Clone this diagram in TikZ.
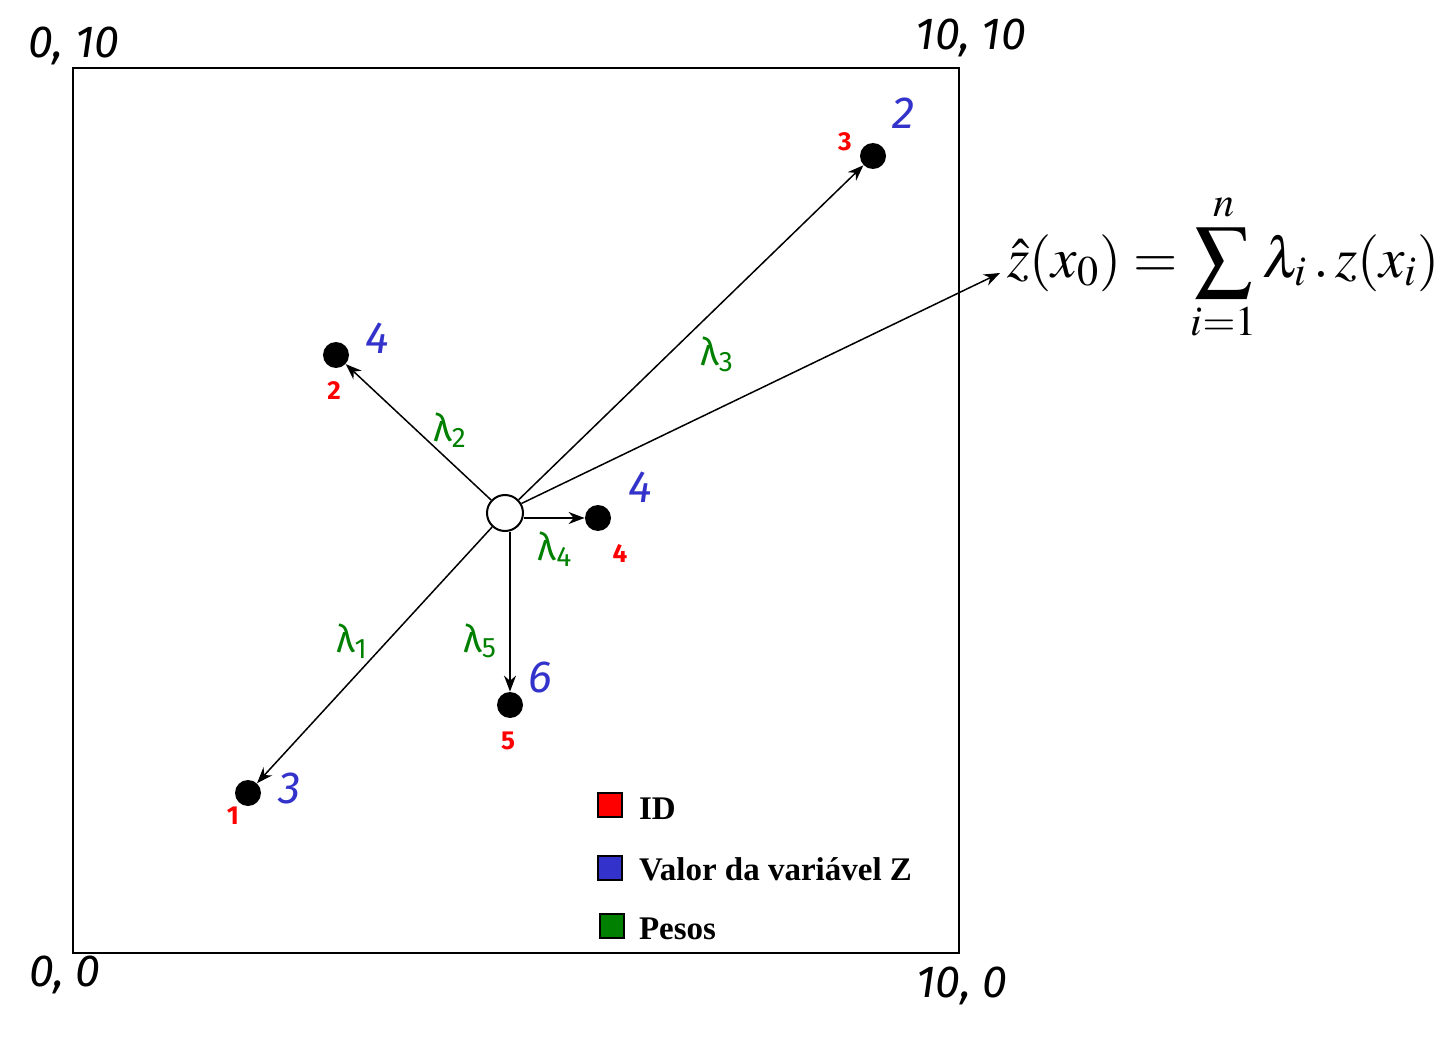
\documentclass[tikz,border=0pt]{standalone}
\usepackage{mathptmx}
\usepackage{fontspec}
\setmainfont{Liberation Serif}
\newfontfamily\comic{Fira Sans}
\usetikzlibrary{arrows.meta}
\definecolor{zblue}{RGB}{51,51,204}
\definecolor{idred}{RGB}{255,0,0}
\definecolor{wgreen}{RGB}{0,128,0}
\begin{document}
\begin{tikzpicture}[x=0.5pt,y=-0.5pt,
  sample/.style={circle,fill=black,inner sep=0pt,minimum size=13pt},
  target/.style={circle,draw=black,line width=1pt,fill=white,inner sep=0pt,minimum size=18pt},
  conn/.style={line width=0.75pt,-{Stealth[length=8pt,width=6pt]}},
  zval/.style={text=zblue,font=\comic\itshape\fontsize{22.5}{26}\selectfont},
  idlab/.style={text=idred,font=\comic\bfseries\fontsize{13}{15}\selectfont},
  wlab/.style={text=wgreen,font=\comic\fontsize{19}{22}\selectfont},
  corner/.style={font=\comic\itshape\fontsize{22.5}{26}\selectfont},
  legsq/.style={draw=black,line width=1pt,minimum size=12pt,inner sep=0pt},
  legtxt/.style={anchor=west,font=\bfseries\fontsize{16.5}{19}\selectfont}]
\useasboundingbox (0,0) rectangle (1448,1054);
\draw[line width=1pt] (73,68) rectangle (959,953);
% corner labels
\node[corner] (c1) at (74,46) {0, 10};
\node[corner] (c2) at (971,38) {10, 10};
\node[corner] (c3) at (65,975) {0, 0};
\node[corner] (c4) at (962,986) {10, 0};
% points
\node[target] (x0) at (505,513) {};
\node[sample] (p1) at (248,793) {};
\node[sample] (p2) at (336,355) {};
\node[sample] (p3) at (873,156) {};
\node[sample] (p4) at (598,518) {};
\node[sample] (p5) at (510,705) {};
\coordinate (fz) at (1000,273);
% connectors
\draw[conn] (x0) -- (p1);
\draw[conn] (x0) -- (p2);
\draw[conn] (x0) -- (p3);
\draw[conn] (x0.east |- p4) -- (p4);
\draw[conn] (p5 |- x0.south) -- (p5);
\draw[conn] (x0.30) -- (fz);
% values
\node[zval] (v2) at (377,338) {4};
\node[zval] (v3) at (903,113) {2};
\node[zval] (v4) at (640,487) {4};
\node[zval] (v5) at (540,677) {6};
\node[zval] (v1) at (290,788) {3};
% ids
\node[idlab] (i2) at (334,391) {2};
\node[idlab] (i3) at (845,142) {3};
\node[idlab] (i4) at (620,553) {4};
\node[idlab] (i5) at (508,741) {5};
\node[idlab] (i1) at (233,816) {1};
% weights
\node[wlab] (w2) at (450,430) {λ\textsubscript{2}};
\node[wlab] (w3) at (717,354) {λ\textsubscript{3}};
\node[wlab] (w4) at (555,549) {λ\textsubscript{4}};
\node[wlab] (w1) at (352,641) {λ\textsubscript{1}};
\node[wlab] (w5) at (480,641) {λ\textsubscript{5}};
% formula
\node[anchor=west,inner sep=0pt] (f) at (1007,267) {\fontsize{28.5}{32}\selectfont $\displaystyle \hat{z}(x_0)=\sum_{i=1}^{n}\lambda_i\,.\,z(x_i)$};
% legend
\node[legsq,fill=idred] (l1) at (610,805) {};
\node[legsq,fill=zblue] (l2) at (610,868) {};
\node[legsq,fill=wgreen] (l3) at (612,926) {};
\node[legtxt] (t1) at (632,809) {ID};
\node[legtxt] (t2) at (632,869) {Valor da variável Z};
\node[legtxt] (t3) at (632,929) {Pesos};
\end{tikzpicture}
\end{document}
